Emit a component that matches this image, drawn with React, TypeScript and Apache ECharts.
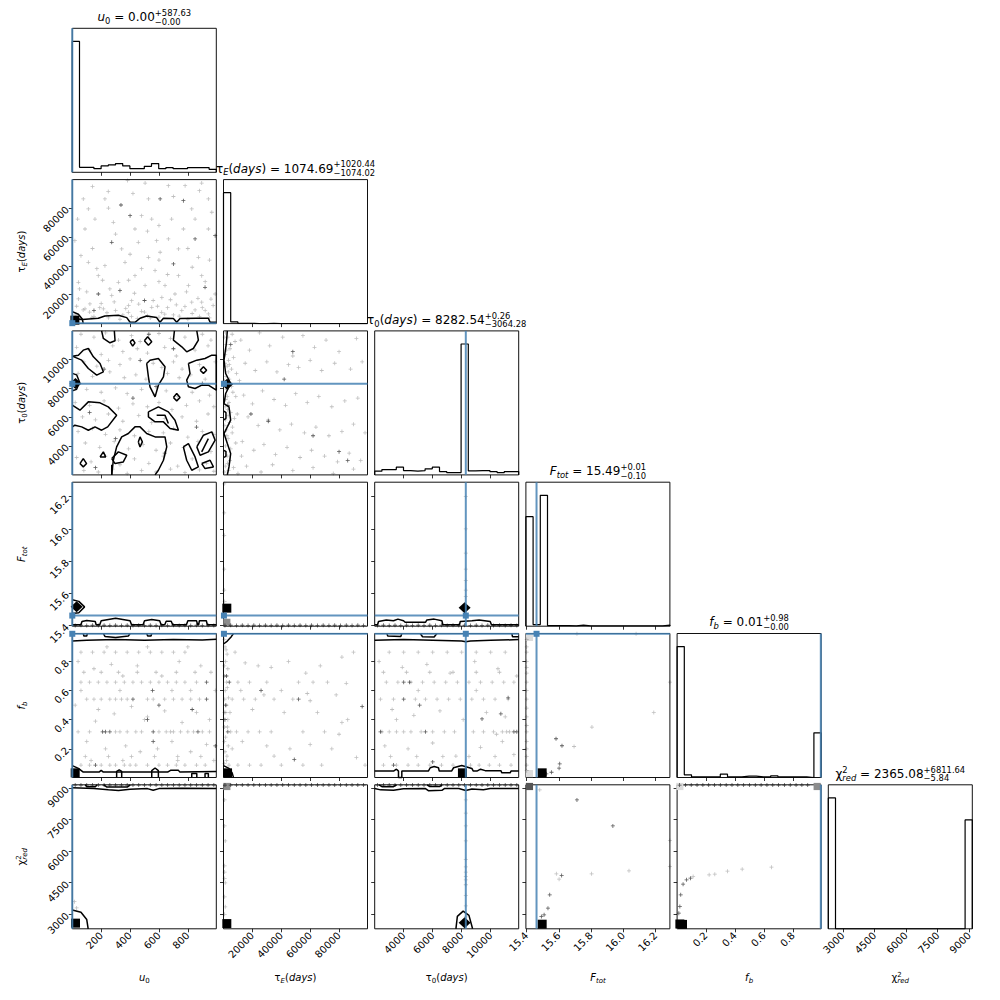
import React, { useEffect, useRef } from "react";
import * as echarts from "echarts";

// ---------------- axis ranges & ticks ----------------
const axMin = [0, 0, 2000, 15.396, 0.003, 2312];
const axMax = [997, 99700, 11930, 16.29, 0.992, 9140];
const tkU0 = [200, 400, 600, 800];
const tkTE = [20000, 40000, 60000, 80000];
const tkT0 = [4000, 6000, 8000, 10000];
const tkF = [15.4, 15.6, 15.8, 16.0, 16.2];
const tkFb = [0.2, 0.4, 0.6, 0.8];
const tkChi = [3000, 4500, 6000, 7500, 9000];
const ticks = [tkU0, tkTE, tkT0, tkF, tkFb, tkChi];
const decimals = [0, 0, 0, 1, 1, 0];

// ---------------- 1D histograms (20 bins) ----------------
const histU0 = [392, 15, 15, 11, 19, 22, 26, 19, 11, 11, 18, 26, 11, 14, 11, 11, 14, 14, 14, 9];
const histTE = [391, 5, 1, 1, 0, 0, 1, 0, 0, 0, 0, 0, 0, 0, 0, 0, 0, 0, 0, 0];
const histT0 = [11, 16, 16, 23, 13, 11, 13, 18, 23, 10, 7, 7, 391, 12, 13, 13, 10, 7, 10, 10];
const histF = [328, 5, 392, 2, 2, 2, 1, 3, 1, 1, 1, 1, 1, 1, 1, 1, 1, 1, 1, 3];
const histFb = [390, 8, 2, 2, 2, 2, 10, 2, 2, 4, 4, 2, 2, 5, 2, 2, 2, 2, 0, 133];
const histChi = [393, 0, 0, 0, 0, 0, 0, 0, 0, 0, 0, 0, 0, 0, 0, 0, 0, 0, 0, 327];
const hists = [histU0, histTE, histT0, histF, histFb, histChi];

// ---------------- truth values ----------------
const truthVals = [0, 300, 8282.54, 15.462, 0.99, null];
// the tau_E truth line sits under the left spine and is not visible in the reference
const truthLineShown = [true, false, true, true, true, false];

// ---------------- titles & labels ----------------
const titleRuns = [
  [{ t: "u", i: true }, { t: "0", s: 8.4, dy: 2.6 }, { t: " = 0.00" }, { sup: "+587.63", sub: "−0.00" }],
  [{ t: "τ" }, { t: "E", s: 8.4, i: true, dy: 2.6 }, { t: "(" }, { t: "days", i: true }, { t: ")" }, { t: " = 1074.69" }, { sup: "+1020.44", sub: "−1074.02" }],
  [{ t: "τ" }, { t: "0", s: 8.4, dy: 2.6 }, { t: "(" }, { t: "days", i: true }, { t: ")" }, { t: " = 8282.54" }, { sup: "+0.26", sub: "−3064.28" }],
  [{ t: "F", i: true }, { t: "tot", s: 8.4, i: true, dy: 2.6 }, { t: " = 15.49" }, { sup: "+0.01", sub: "−0.10" }],
  [{ t: "f", i: true }, { t: "b", s: 8.4, i: true, dy: 2.6 }, { t: " = 0.01" }, { sup: "+0.98", sub: "−0.00" }],
  [{ t: "χ" }, { sup: "2", sub: "red", subI: true, up: -5, dn: 3 }, { t: " = 2365.08" }, { sup: "+6811.64", sub: "−5.84" }],
];
const labelRuns = [
  [{ t: "u", i: true }, { t: "0", s: 7, dy: 2 }],
  [{ t: "τ" }, { t: "E", s: 7, i: true, dy: 2 }, { t: "(" }, { t: "days", i: true }, { t: ")" }],
  [{ t: "τ" }, { t: "0", s: 7, dy: 2 }, { t: "(" }, { t: "days", i: true }, { t: ")" }],
  [{ t: "F", i: true }, { t: "tot", s: 7, i: true, dy: 2 }],
  [{ t: "f", i: true }, { t: "b", s: 7, i: true, dy: 2 }],
  [{ t: "χ" }, { sup: "2", sub: "red", subI: true, up: -4, dn: 2.5 }],
];

// ---------------- scatter samples per panel ----------------
const p10L = [[383,99000],[781,95500],[504,97300],[249,91400],[665,95500],[896,97300],[226,86300],[942,86300],[527,86300],[76,86300],[111,79400],[827,79400],[480,74700],[157,72400],[550,72400],[850,72400],[688,72400],[37,72400],[966,77100],[284,70100],[88,65500],[434,65500],[769,65500],[942,65500],[665,58600],[584,57400],[457,56300],[18,57400],[342,51700],[735,51700],[608,49400],[873,45900],[527,45900],[365,42400],[111,42400],[226,40100],[573,36700],[735,33200],[896,33200],[434,33200],[180,33200],[42,28600],[319,28600],[504,26300],[642,26300],[804,26300],[273,19400],[711,20500],[989,20500],[122,13600],[411,15900],[827,14800],[896,14800],[215,10200],[550,11300],[88,10200],[42,17100],[388,7800],[619,7800],[758,9000],[942,6700],[60,3000],[150,5000],[250,4000],[350,6000],[450,3500],[520,5500],[600,4500],[700,6000],[800,3000],[880,5000],[950,4000],[120,8000],[300,9000],[480,8500],[660,11000],[850,9500],[30,12000],[200,14000],[390,12500],[560,16000],[720,13000],[900,11000],[100,22000],[260,24000],[430,21000],[620,18000],[790,22000],[960,17000],[170,38000],[390,30000],[600,29000],[830,39000],[950,44000],[60,47000],[300,62000],[520,64000],[700,88000],[140,95000],[420,90000],[20,6000],[75,9500],[135,4200],[190,11000],[240,7500],[290,15000],[330,3000],[370,10500],[410,5000],[460,13500],[500,8000],[540,3800],[590,12000],[640,6500],[680,16500],[740,5200],[780,11800],[830,7000],[870,17500],[920,9000],[975,12500],[50,24000],[210,30000],[480,38000],[660,34000],[920,29000],[140,52000],[400,48000],[600,44000],[800,52000],[250,80000],[600,68000],[880,92000]];
const p10D = [[337,82100],[608,86300],[769,85100],[400,74700],[700,41300],[989,60900],[180,20500],[919,25100],[273,56300],[850,58600],[500,16000],[330,23000],[150,9000]];

const p20L = [[60,11700],[150,11500],[230,11800],[320,11300],[410,11600],[470,11200],[600,11750],[680,11400],[780,11500],[900,11700],[960,11300],[30,10800],[120,10600],[200,10300],[280,10900],[350,10500],[450,10700],[520,10400],[640,10800],[720,10200],[850,10600],[940,10900],[80,9800],[170,9500],[250,9900],[330,9600],[400,10000],[560,9700],[620,9400],[700,9800],[760,9300],[880,9600],[990,9800],[40,9000],[140,8800],[260,9100],[360,8700],[440,8900],[510,8600],[660,9000],[740,8700],[820,8900],[920,8600],[100,7900],[200,7700],[300,8000],[380,7600],[480,7900],[570,7500],[650,7800],[730,7400],[830,7700],[950,7500],[20,7000],[120,6800],[220,7100],[320,6600],[420,6900],[520,6700],[600,7000],[690,6500],[790,6800],[880,7100],[980,6700],[70,6000],[160,5800],[250,6200],[350,5700],[460,6100],[550,5600],[640,5900],[760,6000],[860,5700],[940,6200],[40,5000],[140,5200],[230,4800],[330,5100],[430,4700],[530,5000],[630,4900],[700,5200],[800,4600],[900,5000],[980,4800],[90,4200],[190,3900],[290,4300],[390,3800],[490,4100],[580,3700],[680,4200],[770,3900],[870,4300],[960,3600],[30,3200],[130,2900],[230,3300],[330,2700],[430,3100],[530,2800],[630,3300],[730,2600],[830,3100],[930,2800],[80,2300],[180,2200],[280,2400],[380,2100],[480,2300],[580,2200],[680,2400],[780,2150],[880,2350],[980,2250]];
const p20D = [[530,11700],[700,10700],[220,9300],[580,8100],[420,7300],[120,6300],[860,5300],[300,4500],[640,3500],[160,2500],[900,8300],[470,9900]];

const p21L = [[1500,11800],[3000,11500],[6000,11700],[2000,11000],[4500,10700],[8000,11200],[1200,10300],[3500,9900],[7000,10100],[2500,9500],[5500,9300],[1800,8800],[4000,8600],[9000,9000],[2200,7900],[6500,7700],[1500,7200],[3800,7000],[8500,7400],[2800,6500],[5000,6300],[1300,5800],[4200,5600],[7500,5900],[2000,5100],[6000,4900],[3200,4500],[1500,4000],[5000,3800],[8500,4200],[2500,3300],[4500,3000],[1200,2600],[3500,2300],[7000,2500],[10000,2100],[12000,11300],[18000,10600],[25000,11800],[32000,10900],[41000,11500],[48000,10200],[55000,11600],[63000,10800],[71000,11300],[80000,10500],[92000,11400],[15000,9700],[22000,9200],[30000,9800],[37000,9100],[45000,9600],[52000,9400],[60000,9900],[68000,9200],[77000,9700],[88000,9300],[96000,9800],[14000,7500],[20000,6900],[27000,7800],[35000,7200],[43000,6800],[50000,7600],[58000,7000],[66000,7400],[75000,6700],[84000,7100],[93000,7300],[17000,6000],[24000,5400],[31000,5800],[39000,5100],[47000,5500],[56000,4900],[64000,5300],[73000,4700],[82000,5000],[90000,5500],[98000,4900],[13000,4300],[21000,3700],[28000,4100],[36000,3400],[44000,3900],[53000,3200],[61000,3700],[70000,3300],[79000,2900],[87000,3500],[95000,3000],[16000,2600],[26000,2200],[34000,2700],[48000,2300],[62000,2500],[76000,2100],[90000,2400],[800,11500],[2200,10600],[1000,9700],[3300,9100],[800,8500],[2600,7400],[1100,6700],[3200,6100],[900,5400],[2300,4700],[1000,3600],[2800,2800],[600,2200],[4000,9600],[5500,8100],[6200,5300],[9500,6200],[11000,8500],[12500,3300]];
const p21D = [[48000,10500],[19000,6200],[31000,5700],[62000,4700],[80000,3600],[5000,11000],[3000,6800],[42000,8600],[86000,3000]];

const p30D = [[20,15.401],[60,15.402],[100,15.401],[140,15.402],[180,15.401],[220,15.402],[260,15.401],[300,15.402],[340,15.401],[380,15.402],[420,15.401],[460,15.402],[500,15.401],[540,15.402],[580,15.401],[620,15.402],[660,15.401],[700,15.402],[740,15.401],[780,15.402],[820,15.401],[860,15.402],[900,15.401],[940,15.402],[980,15.401]];

const p31L = [[500,16.28],[500,16.1],[500,15.96],[500,15.75],[500,15.62],[800,15.55]];
const p31D = [[1000,15.401],[5000,15.402],[9000,15.401],[13000,15.402],[17000,15.401],[21000,15.402],[25000,15.401],[29000,15.402],[33000,15.401],[37000,15.402],[41000,15.401],[45000,15.402],[49000,15.401],[53000,15.402],[57000,15.401],[61000,15.402],[65000,15.401],[69000,15.402],[73000,15.401],[77000,15.402],[81000,15.401],[85000,15.402],[89000,15.401],[93000,15.402],[97000,15.401]];

const p32L = [[8282,16.2],[8282,16.0],[8282,15.85],[8282,15.75],[8282,15.68],[8282,15.62],[8282,15.58]];
const p32D = [[2200,15.401],[2600,15.402],[3000,15.401],[3400,15.402],[3800,15.401],[4200,15.402],[4600,15.401],[5000,15.402],[5400,15.401],[5800,15.402],[6200,15.401],[6600,15.402],[7000,15.401],[7400,15.402],[7800,15.401],[8200,15.402],[8600,15.401],[9000,15.402],[9400,15.401],[9800,15.402],[10200,15.401],[10600,15.402],[11000,15.401],[11400,15.402],[11800,15.401]];

const p40L = [[40,.317],[120,.317],[300,.317],[330,.317],[380,.317],[440,.317],[480,.317],[600,.317],[650,.317],[680,.317],[700,.317],[750,.317],[800,.317],[840,.317],[900,.317],[950,.317],[60,.088],[120,.088],[200,.088],[260,.088],[300,.088],[360,.088],[400,.088],[440,.088],[520,.088],[600,.088],[660,.088],[720,.088],[780,.088],[860,.088],[920,.088],[100,.541],[150,.541],[200,.541],[260,.541],[300,.541],[340,.541],[380,.541],[520,.541],[560,.541],[640,.541],[700,.541],[760,.541],[820,.541],[880,.541],[60,.658],[120,.658],[180,.658],[240,.658],[300,.658],[360,.658],[420,.658],[480,.658],[540,.658],[600,.658],[660,.658],[720,.658],[780,.658],[860,.658],[60,.864],[140,.864],[220,.864],[300,.864],[380,.864],[460,.864],[540,.864],[620,.864],[700,.864],[780,.864],[80,.726],[200,.726],[320,.726],[450,.726],[580,.726],[720,.726],[850,.726],[960,.726],[90,.147],[250,.147],[410,.147],[570,.147],[730,.147],[890,.147],[40,.8],[150,.75],[270,.78],[350,.7],[450,.77],[620,.7],[740,.8],[890,.77],[60,.6],[180,.47],[290,.44],[410,.49],[520,.42],[640,.46],[760,.38],[860,.45],[950,.4],[100,.25],[230,.2],[370,.22],[470,.18],[590,.2],[690,.25],[820,.18],[930,.23],[130,.12],[350,.12],[730,.12],[980,.12],[20,.5],[990,.6],[500,.4],[160,.39],[330,.6],[690,.6],[820,.6],[240,.9],[520,.9],[800,.9]];
const p40D = [[520,.40],[556,.60],[930,.658],[930,.541],[830,.47],[210,.317],[230,.317],[260,.317],[560,.317],[870,.317],[160,.088],[560,.25],[990,.22],[600,.5],[420,.541]];

const p41L = [[1000,.9],[2500,.85],[1500,.8],[3000,.75],[800,.7],[2000,.658],[1200,.6],[3500,.55],[900,.541],[2200,.5],[1600,.45],[3000,.4],[700,.35],[1500,.28],[3300,.22],[1000,.18],[2000,.12],[3800,.088],[1200,.05],[8000,.864],[15000,.79],[24000,.77],[33000,.76],[45000,.8],[57000,.72],[67000,.77],[82000,.83],[90000,.864],[10000,.658],[18000,.658],[30000,.658],[52000,.658],[62000,.658],[72000,.658],[85000,.65],[12000,.6],[28000,.57],[40000,.6],[58000,.58],[78000,.57],[6000,.541],[14000,.541],[22000,.541],[35000,.541],[48000,.541],[60000,.53],[20000,.47],[42000,.45],[65000,.45],[86000,.4],[9000,.317],[17000,.317],[25000,.317],[33000,.317],[55000,.317],[70000,.317],[80000,.3],[13000,.25],[30000,.22],[46000,.2],[60000,.23],[75000,.2],[92000,.14],[10000,.088],[18000,.088],[26000,.088],[40000,.088],[55000,.088],[68000,.088],[98000,.088],[35000,.15],[82000,.38],[5000,.317],[6000,.2],[4500,.45],[700,.95],[1800,.88],[600,.77],[2600,.62],[700,.45],[2800,.35],[600,.25],[2400,.15],[700,.1]];
const p41D = [[49000,.127],[26000,.6],[52000,.541],[96000,.49],[4000,.658],[3000,.317],[1500,.5],[2000,.7],[1000,.4]];

const p42L = [[2500,.317],[3000,.317],[3500,.317],[4000,.317],[4500,.317],[5200,.317],[6000,.317],[6800,.317],[7500,.317],[8800,.317],[9500,.317],[10200,.317],[10800,.317],[11100,.317],[11300,.317],[2600,.088],[3500,.088],[4300,.088],[5000,.088],[5800,.088],[6600,.088],[7400,.088],[8600,.088],[9200,.088],[9900,.088],[10600,.088],[11400,.088],[2400,.541],[3300,.541],[4800,.541],[5500,.541],[6300,.541],[7100,.541],[7900,.541],[8700,.541],[9500,.541],[10300,.541],[11200,.541],[2800,.658],[3600,.658],[4500,.658],[5300,.658],[6100,.658],[6900,.658],[7700,.658],[8500,.658],[9300,.658],[10100,.658],[10900,.658],[11600,.658],[3000,.864],[4000,.864],[5000,.864],[6000,.864],[7000,.864],[8000,.864],[9000,.864],[10000,.864],[11000,.864],[2600,.726],[4200,.726],[5800,.726],[7400,.726],[9000,.726],[10600,.726],[3100,.147],[4900,.147],[6700,.147],[8500,.147],[10300,.147],[2300,.8],[3900,.76],[5600,.78],[7200,.72],[8900,.8],[10500,.75],[11800,.7],[3200,.47],[4700,.43],[6500,.46],[8100,.4],[9700,.45],[11000,.42],[2700,.22],[4300,.2],[6000,.24],[7600,.15],[9300,.21],[10800,.25],[11600,.16],[5000,.6],[9000,.6],[3500,.4],[10400,.3]];
const p42D = [[4400,.658],[4000,.658],[5100,.5],[10700,.44],[11200,.55],[2400,.317],[11600,.317],[11800,.317],[6000,.11],[4000,.541],[9400,.405],[5500,.317],[3300,.088]];

const p43L = [[15.401,.95],[15.401,.9],[15.401,.864],[15.401,.8],[15.401,.76],[15.401,.72],[15.401,.658],[15.401,.6],[15.401,.541],[15.401,.48],[15.401,.42],[15.401,.36],[15.401,.317],[15.401,.25],[15.401,.2],[15.401,.147],[15.401,.088],[15.401,.05],[15.695,.216],[15.806,.349],[16.19,.45],[15.713,.99],[16.08,.99],[16.29,.658]];
const p43D = [[15.583,.269],[15.62,.221],[15.606,.097],[15.602,.067],[15.555,.039],[15.523,.028]];

const p50L = [[30,3300],[15,3600]];
const p50D = [[20,9125],[60,9125],[100,9125],[140,9125],[180,9125],[220,9125],[260,9125],[300,9125],[340,9125],[380,9125],[420,9125],[460,9125],[500,9125],[540,9125],[580,9125],[620,9125],[660,9125],[700,9125],[740,9125],[780,9125],[820,9125],[860,9125],[900,9125],[940,9125],[980,9125]];

const p51L = [[800,8425],[800,7192],[1200,6481],[800,5296],[800,5000],[800,4700],[1200,4490],[800,3827],[1200,3353],[800,3000]];
const p51D = [[1000,9125],[5000,9125],[9000,9125],[13000,9125],[17000,9125],[21000,9125],[25000,9125],[29000,9125],[33000,9125],[37000,9125],[41000,9125],[45000,9125],[49000,9125],[53000,9125],[57000,9125],[61000,9125],[65000,9125],[69000,9125],[73000,9125],[77000,9125],[81000,9125],[85000,9125],[89000,9125],[93000,9125],[97000,9125]];

const p52L = [[8282,8425],[8282,7800],[8282,7192],[8282,6481],[8282,5600],[8282,5250],[8282,5000],[8282,4800],[8282,4630],[8282,4400],[8282,3900],[8282,3400],[8282,2879]];
const p52D = [[2200,9125],[2600,9125],[3000,9125],[3400,9125],[3800,9125],[4200,9125],[4600,9125],[5000,9125],[5400,9125],[5800,9125],[6200,9125],[6600,9125],[7000,9125],[7400,9125],[7800,9125],[8200,9125],[8600,9125],[9000,9125],[9400,9125],[9800,9125],[10200,9125],[10600,9125],[11000,9125],[11400,9125],[11800,9125]];

const p53L = [[16.29,6495],[16.036,5059],[16.29,5263],[15.804,4917],[15.602,4666],[15.585,4917],[15.482,8900]];
const p53D = [[15.713,8425],[15.936,7192],[15.618,4837],[15.544,3922],[15.533,3291],[15.509,2974],[15.492,2893]];

const p54L = [[0.651,5234],[0.45,5140],[0.349,5045],[0.262,4902],[0.223,4870],[0.113,4790]];
const p54D = [[0.095,4713],[0.068,4633],[0.044,4429],[0.028,3922],[0.022,3367],[0.015,3054],[0.02,9125],[0.06,9125],[0.1,9125],[0.14,9125],[0.18,9125],[0.22,9125],[0.26,9125],[0.3,9125],[0.34,9125],[0.38,9125],[0.42,9125],[0.46,9125],[0.5,9125],[0.54,9125],[0.58,9125],[0.62,9125],[0.66,9125],[0.7,9125],[0.74,9125],[0.78,9125],[0.82,9125],[0.86,9125],[0.9,9125]];

// ---------------- contour lines per panel ----------------
const c10 = [
  [[0,8300],[42,6460],[69,3230],[76,0]],
  [[42,3200],[69,2800],[180,3700],[226,5300],[319,5760],[377,4150],[400,900],[434,900],[469,3700],[515,5300],[584,4150],[607,900],[631,3700],[700,3460],[723,900],[746,3460],[861,3700],[942,3700],[954,900],[997,900]],
];
const c20 = [
  [[203,11930],[215,11407],[261,11108],[296,11246],[291,11930]],
  [[499,11246],[522,11522],[550,11177],[527,10947],[499,11246]],
  [[400,11177],[418,11338],[434,11108],[418,10878],[400,11177]],
  [[707,11930],[700,11292],[758,10832],[792,10487],[838,10717],[873,11292],[862,11930]],
  [[0,10188],[65,9912],[111,9337],[169,8877],[215,9107],[192,9682],[146,10142],[111,10717],[76,10602],[42,10257],[0,10188]],
  [[515,9682],[538,9912],[596,10027],[642,9452],[631,8762],[596,8187],[573,7382],[538,8072],[527,8762],[515,9682]],
  [[804,9682],[862,9912],[919,10027],[966,10257],[997,10257],[997,7842],[942,8187],[896,8187],[850,7957],[804,8072],[792,8532],[815,8992],[804,9682]],
  [[885,9222],[908,9452],[930,9222],[908,9000],[885,9222]],
  [[700,7336],[723,7612],[746,7336],[723,7106],[700,7336]],
  [[0,9000],[30,8900],[50,8400],[30,7900],[0,7800]],
  [[0,6807],[53,6462],[111,7037],[192,6968],[249,6692],[307,6117],[245,5312],[203,5082],[157,5312],[111,5082],[65,5312],[18,5427],[0,5312]],
  [[273,2000],[284,3012],[307,3932],[342,4622],[388,4852],[434,5312],[469,5312],[515,4852],[573,4622],[642,4622],[654,3932],[631,3012],[596,2322],[573,2000]],
  [[457,4277],[469,4622],[485,4277],[469,3932],[457,4277]],
  [[273,3127],[319,3587],[377,3357],[353,2897],[296,2782],[273,3127]],
  [[527,6347],[596,6692],[665,6347],[711,5772],[735,5082],[677,5197],[631,5657],[573,5657],[527,6002],[527,6347]],
  [[584,6117],[642,6117],[665,5542]],
  [[769,3932],[804,4162],[850,3242],[873,2552],[827,2322],[792,3012],[769,3932]],
  [[862,3932],[908,4737],[966,4967],[989,4392],[942,3587],[885,3357],[862,3932]],
  [[896,3587],[942,4507]],
  [[896,2782],[954,3012],[977,2552],[919,2437],[896,2782]],
  [[53,2782],[76,3127],[99,2782],[76,2552],[53,2782]],
  [[192,3242],[215,3587],[231,3242],[192,3242]],
  [[273,2000],[273,2700]],
];
const c21 = [
  [[2650,11930],[1960,11062],[346,9912],[1500,8992],[4960,8302],[1500,7612],[346,6922],[3800,6692],[4960,5772],[2650,5312],[346,4852],[2650,4162],[4960,3472],[3800,2552],[2650,2000]],
  [[346,6400],[1700,6300],[1700,5900],[346,5800]],
  [[346,3700],[1700,3600],[1700,3300],[346,3200]],
];
const c30 = [
  [[0,15.405],[60,15.405],[67,15.425],[100,15.432],[159,15.425],[165,15.405],[190,15.405],[200,15.43],[300,15.445],[400,15.43],[410,15.405],[490,15.405],[500,15.43],[550,15.437],[605,15.43],[615,15.405],[640,15.405],[650,15.427],[685,15.427],[695,15.405],[790,15.405],[800,15.43],[860,15.43],[868,15.405],[875,15.405],[880,15.43],[928,15.43],[935,15.405],[997,15.405]],
  [[0,15.56],[45,15.55],[85,15.516],[45,15.48],[0,15.475]],
];
const c32 = [
  [[2000,15.405],[2200,15.405],[2262,15.425],[2800,15.435],[3296,15.43],[3600,15.44],[3986,15.43],[4100,15.42],[5500,15.42],[5600,15.435],[6100,15.44],[6634,15.43],[6700,15.405],[7850,15.405],[7900,15.425],[8703,15.43],[9200,15.435],[9965,15.425],[10050,15.405],[11930,15.405]],
];
const c40 = [
  [[0,0.94],[100,0.945],[300,0.95],[500,0.946],[700,0.951],[900,0.948],[997,0.952]],
  [[76,0.992],[80,0.975],[100,0.975],[104,0.992]],
  [[215,0.992],[226,0.972],[300,0.965],[388,0.975],[400,0.992]],
  [[515,0.992],[522,0.975],[545,0.975],[550,0.992]],
  [[0,0.085],[42,0.066],[76,0.04],[185,0.04],[200,0.052],[215,0.04],[300,0.04],[345,0.04],[540,0.04],[600,0.04],[660,0.04],[680,0.052],[735,0.052],[745,0.04],[997,0.045]],
  [[307,0.003],[307,0.045],[325,0.055],[342,0.045],[342,0.003]],
  [[550,0.003],[550,0.05],[573,0.068],[596,0.05],[596,0.003]],
  [[827,0.003],[827,0.03],[862,0.03],[862,0.003]],
  [[919,0.003],[919,0.03],[942,0.03],[942,0.003]],
];
const c41 = [
  [[0,0.92],[2650,0.94],[5400,0.97],[6900,0.992]],
  [[0,0.085],[3800,0.066],[6000,0.035],[6900,0.003]],
];
const c42 = [
  [[2000,0.945],[4000,0.95],[6000,0.945],[8000,0.94],[8282,0.935],[8600,0.94],[10000,0.945],[11930,0.95]],
  [[2840,0.992],[2900,0.975],[3800,0.972],[3870,0.992]],
  [[5140,0.992],[5300,0.97],[6100,0.968],[6290,0.992]],
  [[11460,0.992],[11500,0.97],[11930,0.97]],
  [[2000,0.047],[3300,0.047],[3500,0.06],[3640,0.047],[3640,0.003],[3870,0.003],[3870,0.047],[5700,0.047],[5830,0.07],[6100,0.078],[6400,0.07],[6450,0.047],[7300,0.047],[7440,0.07],[8000,0.085],[8700,0.065],[8800,0.047],[9050,0.047],[9300,0.06],[9620,0.05],[10700,0.05],[10770,0.035],[11340,0.035],[11400,0.047],[11930,0.047]],
];
const c50 = [
  [[0,9000],[150,8960],[250,8900],[320,8870],[400,8930],[520,8960],[560,8880],[600,8960],[760,8980],[997,8960]],
  [[90,9140],[100,9050],[160,9050],[171,9140]],
  [[217,9140],[240,9030],[380,9030],[402,9140]],
  [[0,3200],[60,3100],[100,2750],[110,2312]],
];
const c52 = [
  [[2000,8960],[2400,8900],[3300,8880],[3986,8950],[5500,8960],[5700,8860],[6634,8880],[6800,8960],[7800,8960],[8282,8870],[8700,8940],[9500,8900],[9965,8960],[11930,8960]],
  [[2300,9140],[2500,9050],[3300,9050],[3500,9140]],
  [[5600,9140],[5800,9060],[6500,9060],[6634,9140]],
  [[7600,2312],[7700,2900],[8100,3150],[8500,2950],[8750,2312]],
];

// ---------------- dense cores / density cells ----------------
const b10 = [[18,2400]];
const m20 = [[22,8300]];
const m21 = [[2500,8250]];
const m30 = [[30,15.516]];
const b31 = [[2300,15.508]];
const g31 = [[2300,15.42]];
const m32 = [[8200,15.51]];
const b40 = [[20,0.035]];
const b41 = [[2800,0.035]];
const b42 = [[8050,0.035]];
const b43 = [[15.497,0.035]];
const l43 = [[15.418,0.965],[15.418,0.03]];
const b50 = [[22,2580]];
const b51 = [[2300,2560]];
const g51 = [[2300,9060]];
const m52 = [[8200,2600]];
const b53 = [[15.497,2530]];
const d53 = [[15.418,9060]];
const b54 = [[0.022,2540],[0.04,2520]];
const l54 = [[0.022,9060]];
const g54 = [[0.965,9060]];

const panelSpecs = [
  { r: 1, c: 0, L: p10L, D: p10D, C: c10, B: b10 },
  { r: 2, c: 0, L: p20L, D: p20D, C: c20, M: m20 },
  { r: 2, c: 1, L: p21L, D: p21D, C: c21, M: m21 },
  { r: 3, c: 0, L: [], D: p30D, C: c30, M: m30 },
  { r: 3, c: 1, L: p31L, D: p31D, C: [], B: b31, G2: g31 },
  { r: 3, c: 2, L: p32L, D: p32D, C: c32, M: m32 },
  { r: 4, c: 0, L: p40L, D: p40D, C: c40, B: b40 },
  { r: 4, c: 1, L: p41L, D: p41D, C: c41, B: b41 },
  { r: 4, c: 2, L: p42L, D: p42D, C: c42, B: b42 },
  { r: 4, c: 3, L: p43L, D: p43D, C: [], B: b43, G3: l43 },
  { r: 5, c: 0, L: p50L, D: p50D, C: c50, B: b50 },
  { r: 5, c: 1, L: p51L, D: p51D, C: [], B: b51, G2: g51 },
  { r: 5, c: 2, L: p52L, D: p52D, C: c52, M: m52 },
  { r: 5, c: 3, L: p53L, D: p53D, C: [], B: b53, G1: d53 },
  { r: 5, c: 4, L: p54L, D: p54D, C: [], B: b54, G3: l54, G2: g54 },
];

// ---------------- layout constants ----------------
const X0 = 72.3, Y0 = 28.3, SX = 151.2, SY = 151.3, SZ = 144;
const FF = "DejaVu Sans";
const PLUS = "path://M2,0H3V2H5V3H3V5H2V3H0V2H2Z";
const TRUTH = "#4682b4";

let measureCtx: any = null;
function tw(t: string, s: number, it: boolean) {
  if (!measureCtx) measureCtx = document.createElement("canvas").getContext("2d");
  measureCtx.font = `${it ? "italic " : ""}${s}px "${FF}"`;
  return measureCtx.measureText(t).width;
}
function runItems(runs: any[], size: number) {
  const items: any[] = [];
  let x = 0;
  for (const r of runs) {
    if (r.sup !== undefined) {
      const ss = r.ss ?? size * 0.7;
      const w1 = tw(r.sup, ss, !!r.supI);
      const w2 = tw(r.sub, ss, !!r.subI);
      items.push({ t: r.sup, x, dy: r.up ?? -size * 0.45, s: ss, i: !!r.supI });
      items.push({ t: r.sub, x, dy: r.dn ?? size * 0.27, s: ss, i: !!r.subI });
      x += Math.max(w1, w2);
    } else {
      const s = r.s ?? size;
      items.push({ t: r.t, x, dy: r.dy ?? 0, s, i: !!r.i });
      x += tw(r.t, s, !!r.i);
    }
  }
  return { items, width: x };
}
function textEls(runs: any[], size: number, cx: number, base: number) {
  const { items, width } = runItems(runs, size);
  const x0 = cx - width / 2;
  return items.map((it) => ({
    type: "text",
    x: x0 + it.x,
    y: base + it.dy - 0.34 * it.s,
    silent: true,
    z: 100,
    style: {
      text: it.t,
      fontSize: it.s,
      fontFamily: FF,
      fontStyle: it.i ? "italic" : "normal",
      fill: "#000",
      align: "left",
      verticalAlign: "middle",
      textAlign: "left",
      textVerticalAlign: "middle",
    },
  }));
}

function buildOption() {
  const grids: any[] = [];
  const xAxes: any[] = [];
  const yAxes: any[] = [];
  const series: any[] = [];
  const idx: Record<string, number> = {};
  let k = 0;
  for (let r = 0; r < 6; r++) {
    for (let c = 0; c <= r; c++) {
      idx[`${r}-${c}`] = k;
      grids.push({
        left: X0 + c * SX, top: Y0 + r * SY, width: SZ, height: SZ,
        show: true, borderColor: "#111", borderWidth: 1, backgroundColor: "transparent",
        containLabel: false,
      });
      const fmt = (v: number) => v.toFixed(decimals[c]);
      xAxes.push({
        type: "value", gridIndex: k, min: axMin[c], max: axMax[c],
        axisLine: { show: false }, splitLine: { show: false },
        axisTick: { show: true, length: 3.5, lineStyle: { color: "#000", width: 0.8 }, customValues: ticks[c] },
        axisLabel: {
          show: r === 5, customValues: ticks[c], rotate: 45, fontSize: 10, color: "#000",
          fontFamily: FF, margin: 5, formatter: fmt,
        },
      });
      if (r === c) {
        const hm = Math.max(...hists[r]);
        yAxes.push({ type: "value", gridIndex: k, min: 0, max: hm * 1.1, show: false, splitLine: { show: false } });
      } else {
        const fy = (v: number) => v.toFixed(decimals[r]);
        yAxes.push({
          type: "value", gridIndex: k, min: axMin[r], max: axMax[r],
          axisLine: { show: false }, splitLine: { show: false },
          axisTick: { show: true, length: 3.5, lineStyle: { color: "#000", width: 0.8 }, customValues: ticks[r] },
          axisLabel: {
            show: c === 0, customValues: ticks[r], rotate: 45, fontSize: 10, color: "#000",
            fontFamily: FF, margin: 5, formatter: fy,
          },
        });
      }
      k++;
    }
  }

  // diagonal histograms
  for (let p = 0; p < 6; p++) {
    const gi = idx[`${p}-${p}`];
    const h = hists[p];
    const bw = (axMax[p] - axMin[p]) / h.length;
    const pts: number[][] = [[axMin[p], 0]];
    h.forEach((v, i) => {
      pts.push([axMin[p] + i * bw, v]);
      pts.push([axMin[p] + (i + 1) * bw, v]);
    });
    pts.push([axMax[p], 0]);
    series.push({
      type: "line", xAxisIndex: gi, yAxisIndex: gi, data: pts, showSymbol: false, symbol: "none",
      lineStyle: { color: "#000", width: 1.2 }, silent: true, z: 3, clip: true,
    });
  }

  // 2D panels
  for (const sp of panelSpecs) {
    const gi = idx[`${sp.r}-${sp.c}`];
    const base = { xAxisIndex: gi, yAxisIndex: gi, silent: true };
    if (sp.L.length)
      series.push({ ...base, type: "scatter", data: sp.L, symbol: PLUS, symbolSize: 4, itemStyle: { color: "rgba(0,0,0,0.25)", opacity: 1 }, z: 2 });
    if (sp.D.length)
      series.push({ ...base, type: "scatter", data: sp.D, symbol: PLUS, symbolSize: 4, itemStyle: { color: "rgba(0,0,0,0.65)", opacity: 1 }, z: 2 });
    for (const line of sp.C) {
      series.push({ ...base, type: "line", data: line, showSymbol: false, symbol: "none", clip: false, lineStyle: { color: "#000", width: 1.5 }, z: 3 });
    }
    if (sp.G1) series.push({ ...base, type: "scatter", data: sp.G1, symbol: "rect", symbolSize: 7.2, itemStyle: { color: "#555", opacity: 1 }, z: 1 });
    if (sp.G2) series.push({ ...base, type: "scatter", data: sp.G2, symbol: "rect", symbolSize: 7.2, itemStyle: { color: "#8c8c8c", opacity: 1 }, z: 1 });
    if (sp.G3) series.push({ ...base, type: "scatter", data: sp.G3, symbol: "rect", symbolSize: 7.2, itemStyle: { color: "#dcdcdc", opacity: 1 }, z: 1 });
    if (sp.B) series.push({ ...base, type: "scatter", data: sp.B, symbol: "rect", symbolSize: 9, itemStyle: { color: "#000", opacity: 1 }, z: 4 });
    if (sp.M) series.push({ ...base, type: "scatter", data: sp.M, symbol: "diamond", symbolSize: [12, 11], itemStyle: { color: "#000", opacity: 1 }, z: 4 });
  }

  // truth lines & markers
  for (let r = 0; r < 6; r++) {
    for (let c = 0; c <= r; c++) {
      const gi = idx[`${r}-${c}`];
      const yLo = r === c ? 0 : axMin[r];
      const yHi = r === c ? Math.max(...hists[r]) * 1.1 : axMax[r];
      const tc = truthVals[c];
      const tr = truthVals[r];
      if (tc !== null && truthLineShown[c]) {
        series.push({
          type: "line", xAxisIndex: gi, yAxisIndex: gi, data: [[tc, yLo], [tc, yHi]], showSymbol: false, symbol: "none",
          lineStyle: { color: TRUTH, width: 2, opacity: 0.85 }, silent: true, z: 5,
        });
      }
      if (r !== c && tr !== null) {
        series.push({
          type: "line", xAxisIndex: gi, yAxisIndex: gi, data: [[axMin[c], tr], [axMax[c], tr]], showSymbol: false, symbol: "none",
          lineStyle: { color: TRUTH, width: 2, opacity: 0.85 }, silent: true, z: 5,
        });
      }
      if (r !== c && tr !== null && tc !== null) {
        series.push({
          type: "scatter", xAxisIndex: gi, yAxisIndex: gi, data: [[tc, tr]], symbol: "rect", symbolSize: 6,
          itemStyle: { color: TRUTH, opacity: 1 }, silent: true, z: 6,
        });
      }
    }
  }

  // texts
  const elements: any[] = [];
  for (let p = 0; p < 6; p++) {
    const cx = X0 + p * SX + SZ / 2;
    elements.push(...textEls(titleRuns[p], 12, cx, Y0 + p * SY - 7));
    elements.push(...textEls(labelRuns[p], 10, cx, 981));
    if (p > 0) {
      elements.push({
        type: "group", x: 25, y: Y0 + p * SY + SZ / 2, rotation: Math.PI / 2,
        children: textEls(labelRuns[p], 10, 0, 0),
      });
    }
  }

  return {
    animation: false,
    backgroundColor: "#fff",
    grid: grids,
    xAxis: xAxes,
    yAxis: yAxes,
    series,
    graphic: { elements },
  };
}

export default function App() {
  const ref = useRef<HTMLDivElement>(null);
  useEffect(() => {
    if (!ref.current) return;
    const chart = echarts.init(ref.current, null, { renderer: "svg" });
    chart.setOption(buildOption() as any);
    return () => chart.dispose();
  }, []);
  return (
    <div
      ref={ref}
      style={{ position: "absolute", left: 0, top: 0, width: 1000, height: 1000, background: "#fff" }}
    />
  );
}
